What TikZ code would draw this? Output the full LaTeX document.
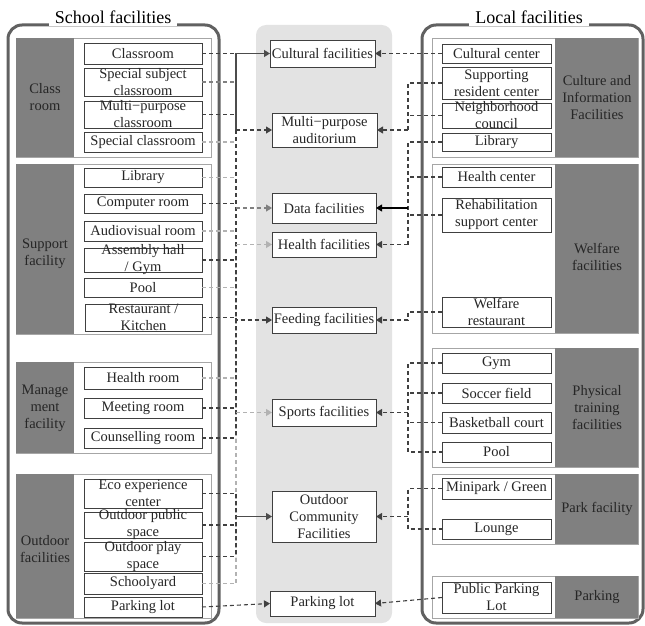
\documentclass[tikz,border=0pt]{standalone}
\usepackage{fontspec}
\setmainfont{Liberation Serif}
\usetikzlibrary{arrows.meta,fit}
\tikzset{
 ibox/.style={draw=black!75, line width=0.9pt, fill=white, inner sep=0pt, outer sep=0pt, rectangle},
 itxt/.style={align=center, inner sep=0pt, text=black!85},
 gbox/.style={draw=black!35, line width=0.9pt, fill=white},
 gpanel/.style={fill=black!50},
 glab/.style={align=center, inner sep=0pt, text=black!85},
 frame/.style={draw=black!62, line width=3pt, rounded corners=14pt},
 ttl/.style={fill=white, inner xsep=6pt, inner ysep=2pt, font=\fontsize{18}{20}\selectfont, anchor=base},
 dk/.style={draw=black!75, line width=1.1pt, dash pattern=on 4pt off 3pt},
 md/.style={draw=black!50, line width=1.1pt, dash pattern=on 4pt off 3pt},
 lt/.style={draw=black!30, line width=1.1pt, dash pattern=on 4pt off 3pt},
 sl/.style={draw=black!70, line width=1.1pt},
 tip/.style={-{Triangle[length=6pt,width=7pt]}},
}
\newcommand\mybox[6]{%
 \node[ibox, fit={(#2,#3)(#4,#5)}] (#1) {};
 \node[itxt] at (#1.center) {#6};}
\begin{document}
\begin{tikzpicture}[x=1pt,y=-1pt,font=\fontsize{14.5}{17}\selectfont]
\useasboundingbox (0,0) rectangle (645,626);
% frames
\draw[frame] (8,25) rectangle (219,623);
\node[ttl] (tl) at (113,24) {School facilities};
\draw[frame] (422,25) rectangle (643,623);
\node[ttl] (tr) at (529,24) {Local facilities};
\fill[black!11, rounded corners=10pt] (256,25) rectangle (392,623);

% left groups
\draw[gbox] (16,38) rectangle (211,157);
\fill[gpanel] (16,38) rectangle (74,157);
\node[glab] (g1) at (45,97.5) {Class\\room};
\draw[gbox] (16,164) rectangle (211,334);
\fill[gpanel] (16,164) rectangle (74,334);
\node[glab] (g2) at (45,254) {Support\\facility};
\draw[gbox] (16,362) rectangle (211,453);
\fill[gpanel] (16,362) rectangle (74,453);
\node[glab] (g3) at (45,408) {Manage\\ment\\facility};
\draw[gbox] (16,474) rectangle (211,618);
\fill[gpanel] (16,474) rectangle (74,618);
\node[glab] (g4) at (45,549) {Outdoor\\facilities};

% right groups
\draw[gbox] (432,38) rectangle (638,157);
\fill[gpanel] (555,38) rectangle (638,157);
\node[glab] (h1) at (597,97.5) {Culture and\\Information\\Facilities};
\draw[gbox] (432,164) rectangle (638,333);
\fill[gpanel] (555,164) rectangle (638,333);
\node[glab] (h2) at (597,257) {Welfare\\facilities};
\draw[gbox] (432,348) rectangle (638,467);
\fill[gpanel] (555,348) rectangle (638,467);
\node[glab] (h3) at (597,408) {Physical\\training\\facilities};
\draw[gbox] (432,474) rectangle (638,544);
\fill[gpanel] (555,474) rectangle (638,544);
\node[glab] (h4) at (597,509) {Park facility};
\draw[gbox] (432,576) rectangle (638,618);
\fill[gpanel] (555,576) rectangle (638,618);
\node[glab] (h5) at (597,597) {Parking};

% left items
\mybox{cls}{84}{43}{202}{64}{Classroom}
\mybox{ssc}{84}{68}{202}{96}{Special subject\\classroom}
\mybox{mpc}{84}{101}{202}{128}{Multi−purpose\\classroom}
\mybox{spc}{84}{132}{202}{152}{Special classroom}
\mybox{lib}{84}{168}{202}{187}{Library}
\mybox{cmp}{84}{194}{202}{213}{Computer room}
\mybox{avr}{84}{221}{202}{241}{Audiovisual room}
\mybox{ash}{84}{248}{202}{272}{Assembly hall\\/ Gym}
\mybox{pol}{84}{278}{202}{297}{Pool}
\mybox{rst}{85}{304}{202}{331}{Restaurant /\\Kitchen}
\mybox{hlr}{84}{367}{202}{389}{Health room}
\mybox{mtr}{84}{398}{202}{418}{Meeting room}
\mybox{csr}{84}{428}{202}{448}{Counselling room}
\mybox{eco}{84}{479}{202}{508}{Eco experience\\center}
\mybox{ops}{84}{512}{202}{538}{Outdoor public\\space}
\mybox{opl}{84}{542}{202}{571}{Outdoor play\\space}
\mybox{syd}{84}{573}{202}{594}{Schoolyard}
\mybox{plt}{84}{597}{202}{617}{Parking lot}

% center items
\mybox{cul}{270}{40}{375}{67}{Cultural facilities}
\mybox{aud}{272}{113}{377}{147}{Multi−purpose\\auditorium}
\mybox{dat}{272}{193}{376}{223}{Data facilities}
\mybox{hea}{272}{232}{376}{257}{Health facilities}
\mybox{fed}{272}{307}{376}{333}{Feeding facilities}
\mybox{spo}{272}{399}{376}{426}{Sports facilities}
\mybox{odc}{272}{491}{376}{542}{Outdoor\\Community\\Facilities}
\mybox{prk}{270}{591}{375}{616}{Parking lot}

% right items
\mybox{ccn}{442}{44}{551}{63}{Cultural center}
\mybox{src}{442}{67}{551}{99}{Supporting\\resident center}
\mybox{nbc}{442}{103}{551}{128}{Neighborhood\\council}
\mybox{rlb}{442}{133}{551}{151}{Library}
\mybox{hcn}{442}{167}{551}{187}{Health center}
\mybox{reh}{442}{198}{551}{232}{Rehabilitation\\support center}
\mybox{wfr}{442}{297}{551}{327}{Welfare\\restaurant}
\mybox{gym}{442}{353}{551}{373}{Gym}
\mybox{scf}{442}{383}{551}{403}{Soccer field}
\mybox{bkc}{442}{412}{551}{433}{Basketball court}
\mybox{rpl}{442}{442}{551}{462}{Pool}
\mybox{mnp}{442}{478}{551}{499}{Minipark / Green}
\mybox{lng}{442}{519}{551}{539}{Lounge}
\mybox{ppl}{442}{582}{551}{613}{Public Parking\\Lot}

\coordinate (lb) at (236,0);
\coordinate (rb) at (408,0);

% left connectors
\draw[dk] (cls.east) -- (cls.east -| lb);
\draw[md] (ssc.east) -- (ssc.east -| lb);
\draw[dk] (mpc.east) -- (mpc.east -| lb);
\draw[lt] (spc.east) -- (spc.east -| lb);
\draw[lt] (lib.east) -- (lib.east -| lb);
\draw[dk] (cmp.east) -- (cmp.east -| lb);
\draw[lt] (avr.east) -- (avr.east -| lb);
\draw[dk] (ash.east) -- (ash.east -| lb);
\draw[lt] (pol.east) -- (pol.east -| lb);
\draw[dk] (rst.east) -- (rst.east -| lb);
\draw[lt] (hlr.east) -- (hlr.east -| lb);
\draw[dk] (mtr.east) -- (mtr.east -| lb);
\draw[dk] (csr.east) -- (csr.east -| lb);
\draw[dk] (eco.east) -- (eco.east -| lb);
\draw[dk] (ops.east) -- (ops.east -| lb);
\draw[dk] (opl.east) -- (opl.east -| lb);
\draw[lt] (syd.east) -- (syd.east -| lb) -- (hea.west -| lb);
\draw[sl] (cul.west -| lb) -- (aud.west -| lb);
\draw[dk] (aud.west -| lb) -- (csr.east -| lb);
\draw[dk] (eco.east -| lb) -- (opl.east -| lb);
\draw[sl,tip] (cul.west -| lb) -- (cul.west);
\draw[dk,tip] (aud.west -| lb) -- (aud.west);
\draw[md,tip] (dat.west -| lb) -- (dat.west);
\draw[lt,tip] (hea.west -| lb) -- (hea.west);
\draw[dk,tip] (rst.east -| lb) |- (fed.west);
\draw[lt,tip] (spo.west -| lb) -- (spo.west);
\draw[sl,tip] (odc.west -| lb) -- (odc.west);
\draw[dk,tip] (plt.east) -- (prk.west);

% right connectors
\draw[dk,tip] (ccn.west) -- (cul.east);
\draw[dk] (src.west) -- (src.west -| rb) -- (aud.east -| rb);
\draw[dk] (nbc.west) -- (nbc.west -| rb);
\draw[dk,tip] (aud.east -| rb) -- (aud.east);
\draw[dk] (rlb.west) -- (rlb.west -| rb) -- (hea.east -| rb);
\draw[dk] (hcn.west) -- (hcn.west -| rb);
\draw[dk] (reh.west) -- (reh.west -| rb);
\draw[sl,draw=black,tip] (dat.east -| rb) -- (dat.east);
\draw[dk,tip] (hea.east -| rb) -- (hea.east);
\draw[dk,tip] (wfr.west) -- (wfr.west -| rb) |- (fed.east);
\draw[dk] (gym.west) -- (gym.west -| rb) -- (rpl.west -| rb) -- (rpl.west);
\draw[dk] (scf.west) -- (scf.west -| rb);
\draw[dk] (bkc.west) -- (bkc.west -| rb);
\draw[dk,tip] (spo.east -| rb) -- (spo.east);
\draw[dk] (mnp.west) -- (mnp.west -| rb) -- (lng.west -| rb) -- (lng.west);
\draw[dk,tip] (odc.east -| rb) -- (odc.east);
\draw[dk,tip] (ppl.west) -- (prk.east);
\end{tikzpicture}
\end{document}
